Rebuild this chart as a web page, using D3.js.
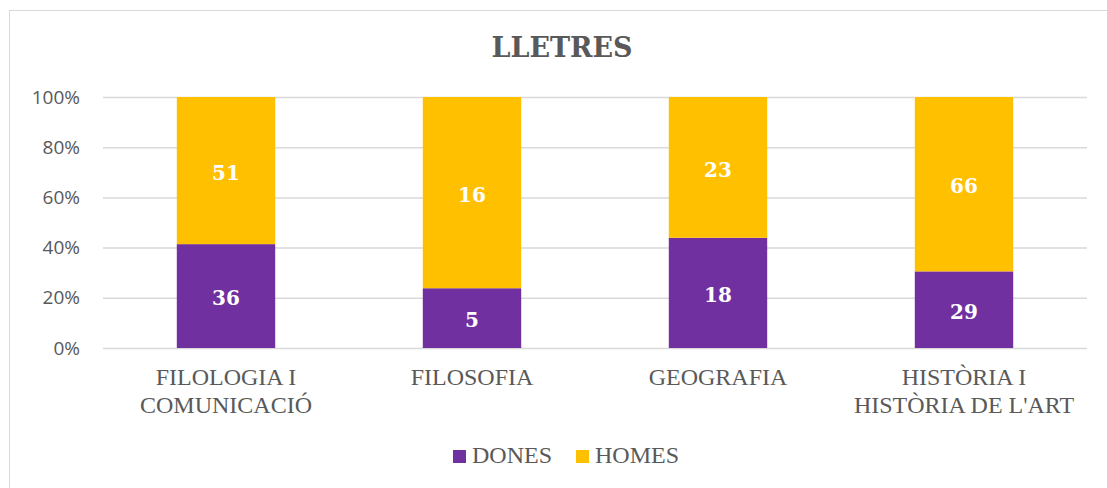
<!DOCTYPE html>
<html>
<head>
<meta charset="utf-8">
<script src="https://cdn.jsdelivr.net/npm/d3@7"></script>
<style>
  body { margin: 0; background: #fff; }
  #chart { width: 1107px; height: 488px; }
</style>
</head>
<body>
<div id="chart"></div>
<script>
// data
const categories = [["FILOLOGIA I", "COMUNICACIÓ"], ["FILOSOFIA"], ["GEOGRAFIA"], ["HISTÒRIA I", "HISTÒRIA DE L'ART"]];
const dones = [36, 5, 18, 29];
const homes = [51, 16, 23, 66];
const seriesNames = ["DONES", "HOMES"];
const seriesColors = ["#7030A0", "#FFC000"];
const tickValues = [0, 0.2, 0.4, 0.6, 0.8, 1];

const width = 1107, height = 488;
const margin = { left: 103, top: 97 };
const plotRight = 1087, plotBottom = 348;

const svg = d3.select("#chart")
    .append("svg")
    .attr("width", width)
    .attr("height", height);

// chart border
svg.append("rect")
    .attr("x", 9.5).attr("y", 10.5)
    .attr("width", 1106).attr("height", 490)
    .attr("fill", "#fff")
    .attr("stroke", "#D9D9D9");

const x = d3.scaleBand()
    .domain(d3.range(categories.length))
    .range([margin.left, plotRight])
    .paddingInner(0.6)
    .paddingOuter(0.3);

const y = d3.scaleLinear()
    .domain([0, 1])
    .range([plotBottom, margin.top]);

// gridlines + tick labels
const yAxis = svg.append("g")
    .attr("transform", `translate(${margin.left},0)`)
    .call(d3.axisLeft(y).tickValues(tickValues).tickFormat(d3.format(".0%"))
        .tickSize(-(plotRight - margin.left)).tickPadding(23));
yAxis.select(".domain").remove();
yAxis.selectAll("line").attr("stroke", "#D9D9D9").attr("stroke-width", 1.5);
yAxis.selectAll("text")
    .attr("fill", "#595959")
    .style("font-family", "'Open Sans', sans-serif")
    .style("font-size", "19px");

// stacked percentages
const rows = categories.map((c, i) => ({ i: i, DONES: dones[i], HOMES: homes[i] }));
const stack = d3.stack().keys(seriesNames).offset(d3.stackOffsetExpand);
const stacked = stack(rows);

const groups = svg.append("g")
    .selectAll("g")
    .data(stacked)
    .enter()
    .append("g")
    .attr("fill", (d, k) => seriesColors[k]);

groups.selectAll("rect")
    .data(d => d)
    .enter()
    .append("rect")
    .attr("x", d => x(d.data.i))
    .attr("width", x.bandwidth())
    .attr("y", d => y(d[1]))
    .attr("height", d => y(d[0]) - y(d[1]));

// value labels
stacked.forEach(s => {
    svg.append("g")
        .selectAll("text")
        .data(s)
        .enter()
        .append("text")
        .attr("x", d => x(d.data.i) + x.bandwidth() / 2)
        .attr("y", d => y((d[0] + d[1]) / 2) + 2)
        .attr("dy", "0.36em")
        .attr("text-anchor", "middle")
        .attr("fill", "#fff")
        .style("font-family", "'DejaVu Serif', serif")
        .style("font-weight", "bold")
        .style("font-size", "20px")
        .text(d => d.data[s.key]);
});

// category labels
const catLabels = svg.append("g")
    .selectAll("text")
    .data(categories)
    .enter()
    .append("text")
    .attr("x", (d, i) => x(i) + x.bandwidth() / 2)
    .attr("y", 385)
    .attr("text-anchor", "middle")
    .attr("fill", "#595959")
    .style("font-family", "'Liberation Serif', serif")
    .style("font-size", "24px");
catLabels.selectAll("tspan")
    .data(d => d)
    .enter()
    .append("tspan")
    .attr("x", function() { return d3.select(this.parentNode).attr("x"); })
    .attr("dy", (d, j) => j === 0 ? 0 : 28)
    .text(d => d);

// title
svg.append("text")
    .attr("x", 562)
    .attr("y", 57)
    .attr("text-anchor", "middle")
    .attr("fill", "#595959")
    .style("font-family", "'DejaVu Serif', serif")
    .style("font-weight", "bold")
    .style("font-size", "27px")
    .text("LLETRES");

// legend
const legendX = [453, 576];
const legend = svg.append("g")
    .selectAll("g")
    .data(seriesNames)
    .enter()
    .append("g")
    .attr("transform", (d, k) => `translate(${legendX[k]},450)`);
legend.append("rect")
    .attr("width", 13).attr("height", 13)
    .attr("fill", (d, k) => seriesColors[k]);
legend.append("text")
    .attr("x", 19)
    .attr("y", 13)
    .attr("fill", "#595959")
    .style("font-family", "'Liberation Serif', serif")
    .style("font-size", "24px")
    .text(d => d);
</script>
</body>
</html>
